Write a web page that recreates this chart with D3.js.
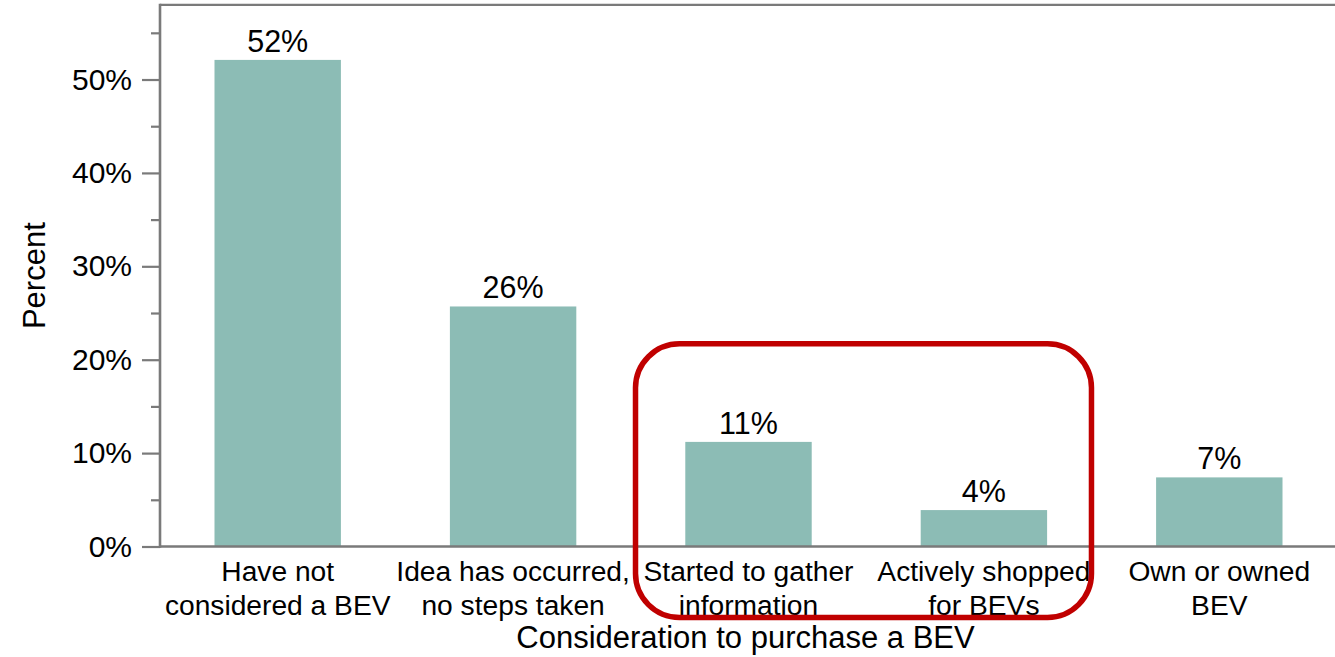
<!DOCTYPE html>
<html>
<head>
<meta charset="utf-8">
<script src="https://cdn.jsdelivr.net/npm/d3@7"></script>
<style>
  html, body { margin: 0; padding: 0; background: #fff; }
  svg { display: block; font-family: "Liberation Sans", Arial, sans-serif; }
</style>
</head>
<body>
<svg id="chart" width="1335" height="657"></svg>
<script>
const categories = [
  ["Have not", "considered a BEV"],
  ["Idea has occurred,", "no steps taken"],
  ["Started to gather", "information"],
  ["Actively shopped", "for BEVs"],
  ["Own or owned", "BEV"]
];
const values = [52.1, 25.7, 11.2, 3.9, 7.4];
const valueLabels = ["52%", "26%", "11%", "4%", "7%"];
const majorTicks = [0, 10, 20, 30, 40, 50];
const minorTicks = [5, 15, 25, 35, 45, 55];
const xTitle = "Consideration to purchase a BEV";
const yTitle = "Percent";
const highlighted = [2, 3];

(function () {
const svg = d3.select("#chart");
const plotLeft = 160, plotRight = 1337, plotTop = 4.8, plotBottom = 546.5;
const axisColor = "#7a7a7a";
const barColor = "#8cbcb5";

const idx = categories.map((d, i) => i);
const x = d3.scaleBand().domain(idx).range([plotLeft, plotRight])
  .paddingInner(0.463).paddingOuter(0.2315);
const y = d3.scaleLinear().domain([0, 58]).range([plotBottom, plotTop]);

// top frame line
svg.append("line").attr("x1", plotLeft).attr("x2", 1335)
  .attr("y1", y(58)).attr("y2", y(58))
  .attr("stroke", axisColor).attr("stroke-width", 2.2);

// bars
svg.append("g").selectAll("rect").data(values).join("rect")
  .attr("x", (d, i) => x(i))
  .attr("width", x.bandwidth())
  .attr("y", d => y(d))
  .attr("height", d => y(0) - y(d))
  .attr("fill", barColor);

// value labels
svg.append("g").selectAll("text").data(values).join("text")
  .attr("x", (d, i) => x(i) + x.bandwidth() / 2)
  .attr("y", d => y(d) - 8)
  .attr("text-anchor", "middle")
  .attr("font-size", 30.5)
  .attr("fill", "#000")
  .text((d, i) => valueLabels[i]);

// y axis
const yAxis = d3.axisLeft(y).tickValues(majorTicks).tickSize(18).tickPadding(10)
  .tickFormat(d => d + "%");
const gy = svg.append("g").attr("transform", `translate(${plotLeft},0)`).call(yAxis);
gy.select(".domain").remove();
gy.selectAll(".tick line").attr("stroke", axisColor).attr("stroke-width", 2.2);
gy.selectAll(".tick text").attr("font-size", 30).attr("fill", "#000")
  .attr("font-family", "Liberation Sans, Arial, sans-serif");
const yMinor = d3.axisLeft(y).tickValues(minorTicks).tickSize(9).tickFormat("");
const gym = svg.append("g").attr("transform", `translate(${plotLeft},0)`).call(yMinor);
gym.select(".domain").remove();
gym.selectAll(".tick line").attr("stroke", axisColor).attr("stroke-width", 2.2);

svg.append("line").attr("x1", plotLeft).attr("x2", plotLeft)
  .attr("y1", y(58) - 1.1).attr("y2", y(0) + 1.2)
  .attr("stroke", axisColor).attr("stroke-width", 2.6);

// x axis
const xAxis = d3.axisBottom(x).tickSize(0).tickFormat("");
const gx = svg.append("g").attr("transform", `translate(0,${y(0)})`).call(xAxis);
gx.select(".domain").remove();
svg.append("line").attr("x1", plotLeft).attr("x2", 1335)
  .attr("y1", y(0)).attr("y2", y(0))
  .attr("stroke", axisColor).attr("stroke-width", 2.6);

// category labels
const catG = svg.append("g");
categories.forEach((lines, i) => {
  const t = catG.append("text")
    .attr("x", x(i) + x.bandwidth() / 2)
    .attr("y", y(0) + 34)
    .attr("text-anchor", "middle")
    .attr("font-size", 28.2)
    .attr("fill", "#000");
  lines.forEach((ln, j) => {
    t.append("tspan").attr("x", x(i) + x.bandwidth() / 2)
      .attr("dy", j === 0 ? 0 : 34.5).text(ln);
  });
});

// axis titles
svg.append("text")
  .attr("x", (plotLeft + 1335) / 2 - 2)
  .attr("y", 648)
  .attr("text-anchor", "middle")
  .attr("font-size", 31)
  .attr("fill", "#000")
  .text(xTitle);
svg.append("text")
  .attr("transform", `translate(45,${(y(0) + y(58)) / 2}) rotate(-90)`)
  .attr("text-anchor", "middle")
  .attr("font-size", 31)
  .attr("fill", "#000")
  .text(yTitle);

// highlight box
const step = x.step();
const bx0 = x(highlighted[0]) + x.bandwidth() / 2 - step * 0.48;
const bx1 = x(highlighted[1]) + x.bandwidth() / 2 + step * 0.457;
const by0 = y(21.7);
const by1 = y(0) + 71;
svg.append("rect")
  .attr("x", bx0).attr("y", by0)
  .attr("width", bx1 - bx0).attr("height", by1 - by0)
  .attr("rx", 44).attr("ry", 44)
  .attr("fill", "none")
  .attr("stroke", "#c00000")
  .attr("stroke-width", 5.5);
})();
</script>
</body>
</html>
